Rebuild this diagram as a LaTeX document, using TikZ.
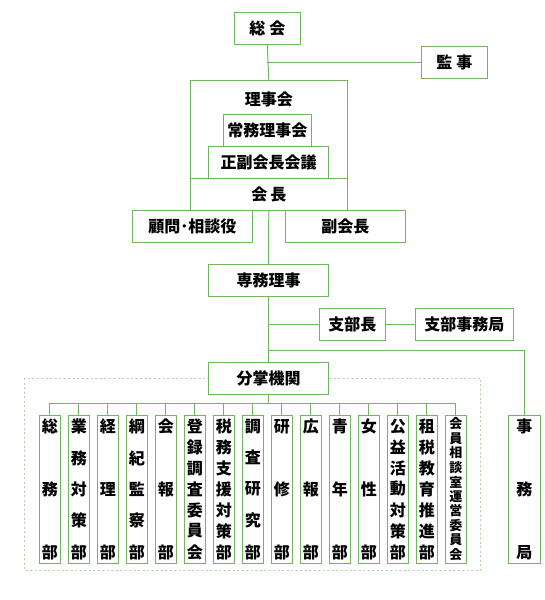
\documentclass[tikz,border=0pt]{standalone}
\usepackage{fontspec}
\setmainfont{Noto Sans CJK JP}
\usetikzlibrary{positioning}
\definecolor{verde}{RGB}{112,181,96}
\definecolor{verdechiaro}{RGB}{170,215,160}
\newcommand\sepcol{}
\newcommand\verticale[2][139pt]{\vbox to #1{\offinterlineskip\gdef\sepcol{}\foreach \ch in #2{\sepcol\hbox to 16pt{\hss\ch\hss}\gdef\sepcol{\vfill}}}}

\begin{document}
\begin{tikzpicture}[x=1pt,y=-1pt,
  box/.style={draw=verde,line width=1pt,fill=white,inner sep=0pt,minimum height=32pt,font=\fontsize{16}{16}\selectfont\bfseries},
  colbox/.style={box,minimum width=21pt,minimum height=148pt},
  linea/.style={verde,line width=1pt}]
\useasboundingbox (0,0) rectangle (545,600);
\draw[verdechiaro,line width=1pt,dash pattern=on 2pt off 2.5pt] (24.3,378) rectangle (480.5,570.3);

\node[box,minimum width=66pt] (sokai) at (267.3,28.3) {総\hspace{4pt}会};
\node[box,minimum width=66pt] (kanji) at (454.3,62.3) {監\hspace{4pt}事};
\node[box,minimum width=157pt,minimum height=98pt] (rijikai) at (268.8,129.3) {};
\node[font=\fontsize{16}{16}\selectfont\bfseries] (rijikai-testo) at (268.8,99) {理事会};
\node[box,minimum width=88pt] (jomu) at (267.3,130.2) {常務理事会};
\node[box,minimum width=120.4pt,minimum height=32.3pt] (seifuku) at (268.5,162.2) {正副会長会議};
\node[box,minimum width=157pt] (kaicho) at (268.8,194.3) {会\hspace{3pt}長};
\node[box,minimum width=120pt] (komon) at (192.3,226.3) {顧問･相談役};
\node[box,minimum width=120pt] (fukukaicho) at (345.3,226.3) {副会長};
\node[box,minimum width=120.4pt] (senmu) at (268.5,280.3) {専務理事};
\node[box,minimum width=66pt] (shibucho) at (352.3,324.3) {支部長};
\node[box,minimum width=98pt] (shibujimu) at (464.3,324.3) {支部事務局};
\node[box,minimum width=120.4pt] (bunsho) at (268.5,378.3) {分掌機関};
\node[colbox,minimum width=32pt] (jimukyoku) at (524.3,489.3) {\verticale{{事,務,局}}};

\foreach \testo [count=\i] in {{総,務,部},{業,務,対,策,部},{経,理,部},{綱,紀,監,察,部},{会,報,部},
  {登,録,調,査,委,員,会},{税,務,支,援,対,策,部},{調,査,研,究,部},{研,修,部},{広,報,部},
  {青,年,部},{女,性,部},{公,益,活,動,対,策,部},{租,税,教,育,推,進,部}}
  \node[colbox] (col\i) at ({20.8+29*\i},489.3) {\verticale{\testo}};
\node[colbox,font=\fontsize{13}{13}\selectfont\bfseries] (col15) at (455.8,489.3) {\verticale[142pt]{{会,員,相,談,室,運,営,委,員,会}}};

\draw[linea] (sokai.south) -- (rijikai.north);
\draw[linea] (kanji.west) -- (kanji.west -| sokai.south);
\draw[linea] (kaicho.south) -- (senmu.north);
\draw[linea] (senmu.south) -- (bunsho.north);
\draw[linea] (shibucho.west) -- (shibucho.west -| senmu.south);
\draw[linea] (shibucho.east) -- (shibujimu.west);
\draw[linea] (senmu.south) ++(0,53.7) -| (jimukyoku.north);
\foreach \i in {1,...,15}
  \draw[linea] (bunsho.south) -- ++(0,9) -| (col\i.north);
\end{tikzpicture}
\end{document}
